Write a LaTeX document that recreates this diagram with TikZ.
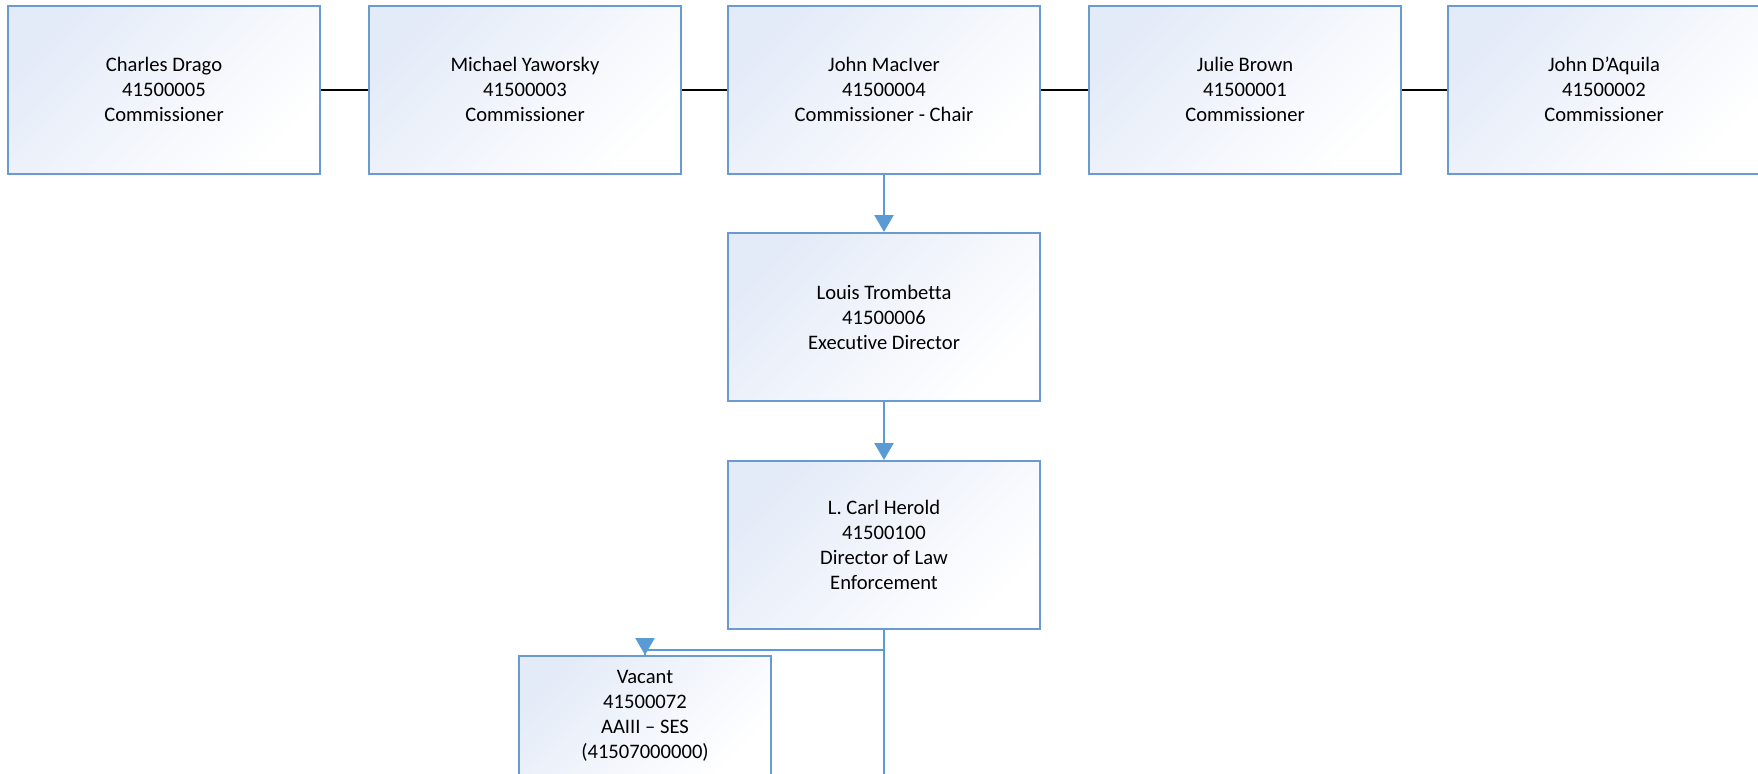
\documentclass[tikz,border=0pt]{standalone}
\usepackage{fontspec}
\setmainfont{Carlito}[Ligatures=CommonOff]
\usetikzlibrary{arrows.meta}
\definecolor{boxline}{RGB}{106,155,208}
\definecolor{boxtint}{RGB}{228,235,248}
\definecolor{linkblue}{RGB}{91,155,213}
\begin{document}
\begin{tikzpicture}[x=0.5pt,y=-0.5pt,
  orgbox/.style={draw=boxline, line width=1pt, top color=boxtint, bottom color=white,
    shading angle=45, align=center, minimum width=156pt, minimum height=84pt,
    inner sep=2pt, font=\fontsize{10.3}{12.5}\selectfont},
  smallbox/.style={orgbox, minimum width=126pt, minimum height=60pt},
  peer/.style={draw=black, line width=1pt},
  report/.style={draw=linkblue, line width=1.25pt},
  tip/.style={-{Triangle[width=9.5pt,length=8.5pt]}, linkblue}]
\useasboundingbox (0,0) rectangle (1758,773);

% board of commissioners
\node[orgbox] (drago)   at (164,89.5)  {Charles Drago\\41500005\\Commissioner};
\node[orgbox] (yaworsky) at (525,89.5) {Michael Yaworsky\\41500003\\Commissioner};
\node[orgbox] (maciver) at (884,89.5)  {John MacIver\\41500004\\Commissioner - Chair};
\node[orgbox] (brown)   at (1245,89.5) {Julie Brown\\41500001\\Commissioner};
\node[orgbox] (daquila) at (1604,89.5) {John D’Aquila\\41500002\\Commissioner};

% staff
\node[orgbox] (louis)  at (884,317) {Louis Trombetta\\41500006\\Executive Director};
\node[orgbox] (herold) at (884,545) {L. Carl Herold\\41500100\\Director of Law\\Enforcement};
\node[smallbox] (vacant) at (645,716) {Vacant\\41500072\\AAIII – SES\\(41507000000)};

% peer links
\draw[peer] (drago) -- (yaworsky);
\draw[peer] (yaworsky) -- (maciver);
\draw[peer] (maciver) -- (brown);
\draw[peer] (brown) -- (daquila);

% reporting lines
\draw[report,tip] (maciver) -- (louis);
\draw[report,tip] (louis) -- (herold);
\coordinate (trunkend) at (884,800);
\coordinate (branch) at (884,650);
\draw[report] (herold.south) -- (trunkend);
\draw[report] (branch) -| (vacant.north);
\draw[report,tip] (vacant.north |- branch) ++(0,-12) -- (vacant.north);
\end{tikzpicture}
\end{document}
